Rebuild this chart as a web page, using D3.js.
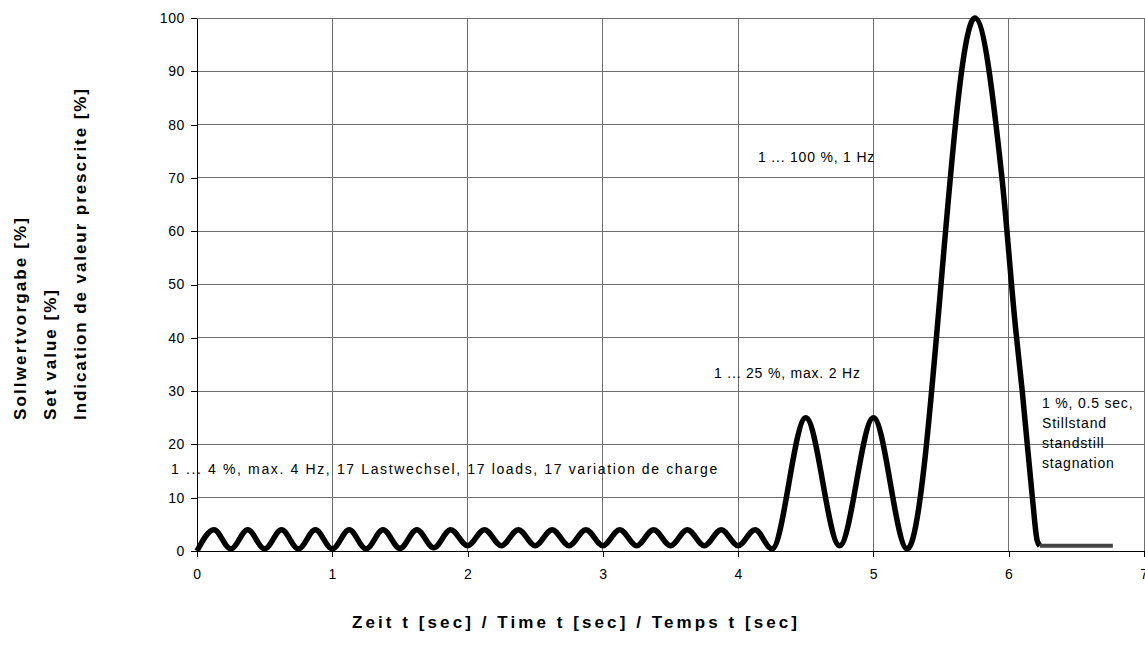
<!DOCTYPE html>
<html>
<head>
<meta charset="utf-8">
<script src="https://cdn.jsdelivr.net/npm/d3@7"></script>
<style>
	body { margin: 0; background: #fff; }
	svg { display: block; font-family: "Liberation Sans", Arial, sans-serif; }
	.tick text { font-size: 14px; letter-spacing: 0.6px; fill: #000; }
	.note { font-size: 14px; letter-spacing: 0.8px; fill: #000; }
	.title { font-size: 17px; font-weight: bold; fill: #000; }
</style>
</head>
<body>
<div id="chart"><svg width="1145" height="655"></svg></div>
<script>
//set value curve (sec / %)
var timeSec = [0, 0.125, 0.25, 0.375, 0.5, 0.625, 0.75, 0.875, 1.0, 1.125, 1.25, 1.375, 1.5, 1.625, 1.75, 1.875,
	2.0, 2.125, 2.25, 2.375, 2.5, 2.625, 2.75, 2.875, 3.0, 3.125, 3.25, 3.375, 3.5, 3.625, 3.75, 3.875,
	4.0, 4.125, 4.25, 4.5, 4.75, 5.0, 5.25, 5.75, 5.95, 6.05, 6.1, 6.175, 6.21, 6.23];
var setValue = [0, 4, 0.4, 4, 0.4, 4, 0.4, 4, 0.4, 4, 0.4, 4, 0.5, 4, 0.6, 4,
	1, 4, 1, 4, 1, 4, 1, 4, 1, 4, 1, 4, 1, 4, 1, 4,
	1, 4, 0.4, 25, 1, 25, 0.4, 100, 70, 42, 30, 10, 2, 1];

//standstill segment
var standTime = [6.23, 6.77];
var standValue = [1, 1];

//axis ticks
var xTicks = [0, 1, 2, 3, 4, 5, 6, 7];
var yTicks = [0, 10, 20, 30, 40, 50, 60, 70, 80, 90, 100];

//labels
var yTitles = ["Sollwertvorgabe [%]", "Set value [%]", "Indication de valeur prescrite [%]"];
var xTitle = "Zeit t [sec] / Time t [sec] / Temps t [sec]";

var svg = d3.select("#chart svg");
var x = d3.scaleLinear().domain([0, 7]).range([197, 1144]);
var y = d3.scaleLinear().domain([0, 100]).range([551, 18]);

//grid
svg.append("g").selectAll("line").data(yTicks.filter(function(d) { return d > 0; })).join("line")
	.attr("x1", x(0)).attr("x2", x(7))
	.attr("y1", function(d) { return y(d); }).attr("y2", function(d) { return y(d); })
	.attr("stroke", "#6e6e6e").attr("stroke-width", 1).attr("shape-rendering", "crispEdges");
svg.append("g").selectAll("line").data(xTicks.filter(function(d) { return d > 0; })).join("line")
	.attr("x1", function(d) { return x(d); }).attr("x2", function(d) { return x(d); })
	.attr("y1", y(0)).attr("y2", y(100))
	.attr("stroke", "#6e6e6e").attr("stroke-width", 1).attr("shape-rendering", "crispEdges");

//axes
svg.append("g").attr("transform", "translate(" + x(0) + ",0)")
	.call(d3.axisLeft(y).tickValues(yTicks).tickSize(6).tickSizeOuter(0).tickPadding(6));
svg.append("g").attr("transform", "translate(0," + y(0) + ")")
	.call(d3.axisBottom(x).tickValues(xTicks).tickFormat(d3.format("d")).tickSize(6).tickSizeOuter(0).tickPadding(12));
svg.selectAll(".domain, .tick line").attr("stroke", "#000").attr("shape-rendering", "crispEdges");
svg.selectAll(".tick text").attr("font-family", null).attr("font-size", null);

//curve
var line = d3.line()
	.x(function(d) { return x(d[0]); })
	.y(function(d) { return y(d[1]); })
	.curve(d3.curveMonotoneX);

svg.append("path")
	.datum(d3.zip(timeSec, setValue))
	.attr("d", line)
	.attr("fill", "none").attr("stroke", "#000").attr("stroke-width", 5.5)
	.attr("stroke-linejoin", "round");

svg.append("path")
	.datum(d3.zip(standTime, standValue))
	.attr("d", d3.line().x(function(d) { return x(d[0]); }).y(function(d) { return y(d[1]); }))
	.attr("fill", "none").attr("stroke", "#444").attr("stroke-width", 4);

//annotations
var notes = [
	{text: "1 ... 100 %, 1 Hz", x: 758, y: 162},
	{text: "1 ... 25 %, max. 2 Hz", x: 714, y: 378},
	{text: "1 ... 4 %, max. 4 Hz, 17 Lastwechsel, 17 loads, 17 variation de charge", x: 171, y: 474, w: 547},
	{text: "1 %, 0.5 sec,", x: 1042, y: 408},
	{text: "Stillstand", x: 1042, y: 428},
	{text: "standstill", x: 1042, y: 448},
	{text: "stagnation", x: 1042, y: 468}
];
svg.append("g").selectAll("text").data(notes).join("text")
	.attr("class", "note")
	.attr("x", function(d) { return d.x; })
	.attr("y", function(d) { return d.y; })
	.each(function(d) { if (d.w) d3.select(this).attr("textLength", d.w).attr("lengthAdjust", "spacing"); })
	.text(function(d) { return d.text; });

//axis titles
var yTitleX = [26, 56, 86];
var yTitleW = [202, 130, 331];
yTitles.forEach(function(t, i) {
	svg.append("text").attr("class", "title")
		.attr("transform", "translate(" + yTitleX[i] + ",420) rotate(-90)")
		.attr("textLength", yTitleW[i]).attr("lengthAdjust", "spacing")
		.text(t);
});
svg.append("text").attr("class", "title")
	.attr("x", 352).attr("y", 628)
	.attr("textLength", 445).attr("lengthAdjust", "spacing")
	.text(xTitle);
</script>
</body>
</html>
